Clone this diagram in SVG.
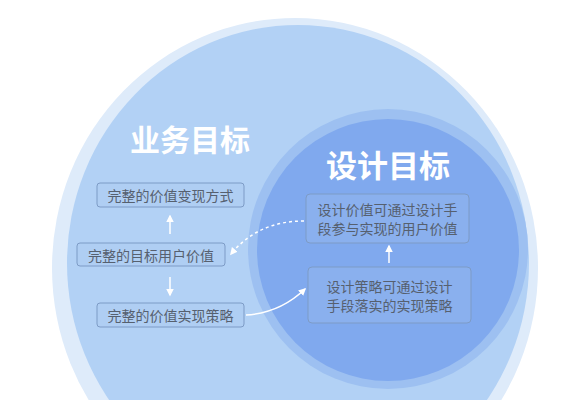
<svg xmlns="http://www.w3.org/2000/svg" width="577" height="400" viewBox="0 0 577 400">
<defs>
<style>
.box{fill:#a9c9f1;fill-opacity:0.25;stroke:#7d9bc6;stroke-width:1}
.t{font-family:"Noto Sans CJK SC","Noto Sans",sans-serif;font-size:14px;fill:#56606f;text-anchor:middle;dominant-baseline:central}
.title{font-family:"Noto Sans CJK SC","Noto Sans",sans-serif;font-weight:bold;fill:#ffffff;text-anchor:middle}
.conn{fill:none;stroke:#ffffff;stroke-width:1.5}
</style>
<marker id="ah" viewBox="0 0 10 10" refX="8" refY="5" markerWidth="5" markerHeight="5" orient="auto">
<path d="M0,0 L10,5 L0,10 z" fill="#ffffff"/>
</marker>
</defs>
<rect width="577" height="400" fill="#ffffff"/>
<g id="background">
<ellipse cx="295" cy="268" rx="243" ry="250" fill="#deebfa"/>
<ellipse cx="298" cy="263" rx="231" ry="238" fill="#b2d1f5"/>
<circle cx="388" cy="249" r="140" fill="#9dc0f1"/>
<circle cx="388" cy="250" r="131" fill="#80a9ee"/>
</g>
<g id="title-business"><text class="title" x="190" y="151" font-size="30">业务目标</text></g>
<g id="title-design"><text class="title" x="388" y="177" font-size="31">设计目标</text></g>
<g id="node-b1"><rect class="box" x="97" y="183" width="147" height="24" rx="3"/><text class="t" x="170.5" y="195">完整的价值变现方式</text></g>
<g id="node-b2"><rect class="box" x="77" y="243" width="148" height="23" rx="3"/><text class="t" x="151" y="254.5">完整的目标用户价值</text></g>
<g id="node-b3"><rect class="box" x="97" y="303" width="147" height="24" rx="3"/><text class="t" x="170.5" y="315">完整的价值实现策略</text></g>
<g id="node-d1"><rect class="box" x="306" y="194" width="163" height="49" rx="4"/><text class="t" x="387.5" y="209">设计价值可通过设计手</text><text class="t" x="387.5" y="228">段参与实现的用户价值</text></g>
<g id="node-d2"><rect class="box" x="308" y="267" width="163" height="56" rx="4"/><text class="t" x="389.5" y="286">设计策略可通过设计</text><text class="t" x="389.5" y="305">手段落实的实现策略</text></g>
<g id="connectors">
<line class="conn" x1="170" y1="234" x2="170" y2="216" marker-end="url(#ah)"/>
<line class="conn" x1="170" y1="277" x2="170" y2="295" marker-end="url(#ah)"/>
<line class="conn" x1="389" y1="263" x2="389" y2="246" marker-end="url(#ah)"/>
<path class="conn" d="M304,221 Q258,221 231,254" stroke-dasharray="3 3" marker-end="url(#ah)"/>
<path class="conn" d="M246,315 Q280,313 305,289" marker-end="url(#ah)"/>
</g>
</svg>
